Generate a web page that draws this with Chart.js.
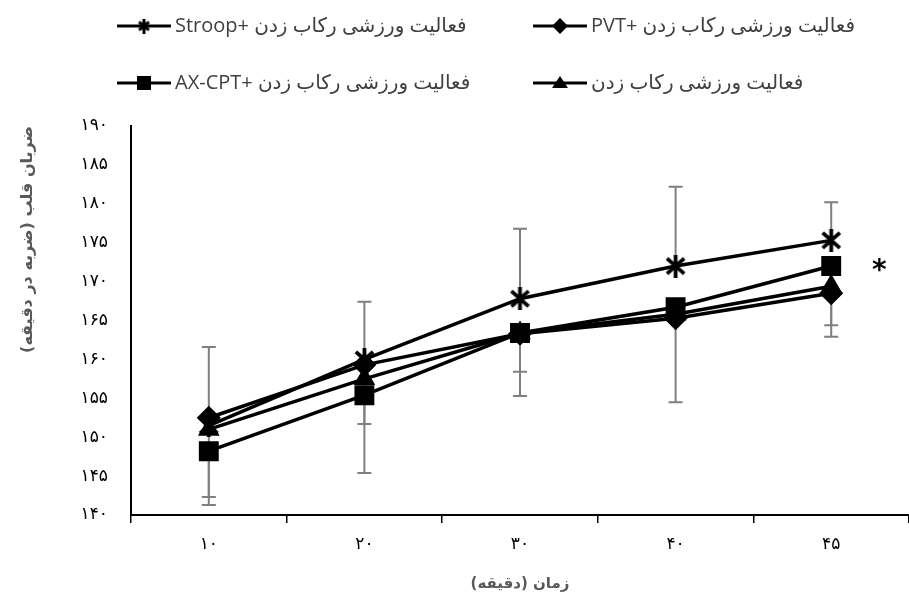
<!DOCTYPE html>
<html lang="fa">
<head>
<meta charset="utf-8">
<script src="https://cdn.jsdelivr.net/npm/chart.js@4.4.1/dist/chart.umd.min.js"></script>
<style>
  html, body { margin: 0; padding: 0; background: #fff; overflow: hidden; }
</style>
</head>
<body>
<canvas id="hrChart" width="909" height="598"></canvas>
<script>
// داده‌ها (خوانده شده از تصویر)
const timeLabels = ['۱۰', '۲۰', '۳۰', '۴۰', '۴۵'];
const yTickLabels = ['۱۴۰', '۱۴۵', '۱۵۰', '۱۵۵', '۱۶۰', '۱۶۵', '۱۷۰', '۱۷۵', '۱۸۰', '۱۸۵', '۱۹۰'];

const stroopName  = 'فعالیت ورزشی رکاب زدن +Stroop';
const pvtName     = 'فعالیت ورزشی رکاب زدن +PVT';
const axcptName   = 'فعالیت ورزشی رکاب زدن +AX-CPT';
const cyclingName = 'فعالیت ورزشی رکاب زدن';

const stroopValues  = [151.5, 160.0, 167.8, 172.0, 175.3];
const pvtValues     = [152.5, 159.3, 163.3, 165.3, 168.5];
const axcptValues   = [148.2, 155.4, 163.4, 166.7, 172.0];
const cyclingValues = [151.0, 157.5, 163.4, 165.8, 169.4];

// انحراف معیار (فقط یک سمت در نمودار دیده می‌شود)
const stroopErrPlus   = [10.1, 7.4, 9.0, 10.2, 4.9];
const axcptErrMinus   = [6.9, 10.0, 8.1, 12.2, 9.1];
const cyclingErrMinus = [8.7, 5.8, 5.0, 0.8, 5.0];

const yAxisTitle = '\u200Fضربان قلب (ضربه در دقیقه)\u200F';
const xAxisTitle = '\u200Fزمان (دقیقه)\u200F';

function makeStar(size, lw) {
  const c = document.createElement('canvas');
  c.width = size; c.height = size;
  const g = c.getContext('2d');
  const m = lw / 2 + 1, s = size;
  g.strokeStyle = '#000';
  g.lineWidth = lw;
  g.beginPath();
  g.moveTo(m, m + 1); g.lineTo(s - m, s - m - 1);
  g.moveTo(s - m, m + 1); g.lineTo(m, s - m - 1);
  g.moveTo(s / 2, 0); g.lineTo(s / 2, s);
  g.stroke();
  return c;
}
const starPoint = makeStar(23, 3.8);
const starLegend = makeStar(15, 3);

function drawLegendMarker(ctx, style, x, y) {
  ctx.fillStyle = '#000';
  ctx.beginPath();
  if (style === 'star') {
    ctx.drawImage(starLegend, x - starLegend.width / 2, y - starLegend.height / 2);
    return;
  } else if (style === 'rect') {
    ctx.rect(x - 7, y - 7, 14, 14);
  } else if (style === 'rectRot') {
    ctx.moveTo(x, y - 8); ctx.lineTo(x + 8, y); ctx.lineTo(x, y + 8); ctx.lineTo(x - 8, y);
  } else {
    ctx.moveTo(x, y - 7); ctx.lineTo(x + 8, y + 5); ctx.lineTo(x - 8, y + 5);
  }
  ctx.closePath();
  ctx.fill();
}

// legend in two rows / two columns, like the Excel original
const legendSpots = [
  { x: 117, y: 26 }, { x: 533, y: 26 },
  { x: 117, y: 83 }, { x: 533, y: 83 }
];

const legendPlugin = {
  id: 'gridLegend',
  afterDraw(chart) {
    const ctx = chart.ctx;
    ctx.save();
    chart.data.datasets.forEach((ds, i) => {
      const p = legendSpots[i];
      ctx.strokeStyle = '#000';
      ctx.lineWidth = 3;
      ctx.beginPath();
      ctx.moveTo(p.x, p.y); ctx.lineTo(p.x + 54, p.y);
      ctx.stroke();
      drawLegendMarker(ctx, ds.legendStyle, p.x + 27, p.y);
      ctx.fillStyle = '#404040';
      ctx.font = '20px "Open Sans", "DejaVu Sans", sans-serif';
      ctx.direction = 'rtl';
      ctx.textAlign = 'left';
      ctx.textBaseline = 'middle';
      ctx.fillText(ds.label, p.x + 58, p.y);
    });
    ctx.restore();
  }
};

const errorBarPlugin = {
  id: 'errorBars',
  beforeDatasetsDraw(chart) {
    const { ctx, scales: { x, y } } = chart;
    ctx.save();
    ctx.strokeStyle = '#7f7f7f';
    ctx.lineWidth = 2;
    chart.data.datasets.forEach(ds => {
      ds.data.forEach((v, j) => {
        const px = x.getPixelForValue(j);
        const py = y.getPixelForValue(v);
        const ends = [];
        if (ds.errPlus) ends.push(y.getPixelForValue(v + ds.errPlus[j]));
        if (ds.errMinus) ends.push(y.getPixelForValue(v - ds.errMinus[j]));
        ends.forEach(e => {
          ctx.beginPath();
          ctx.moveTo(px, py); ctx.lineTo(px, e);
          ctx.moveTo(px - 7, e); ctx.lineTo(px + 7, e);
          ctx.stroke();
        });
      });
    });
    ctx.restore();
  }
};

// ستاره معنی‌داری کنار نقطه آخر
const signifPlugin = {
  id: 'signif',
  afterDatasetsDraw(chart) {
    const { ctx, scales: { x, y } } = chart;
    const last = timeLabels.length - 1;
    ctx.save();
    ctx.fillStyle = '#000';
    ctx.font = 'bold 28px "DejaVu Sans", sans-serif';
    ctx.textAlign = 'center';
    ctx.textBaseline = 'middle';
    ctx.fillText('*', x.getPixelForValue(last) + 48, y.getPixelForValue(axcptValues[last]) + 6);
    ctx.restore();
  }
};

function lineSet(label, data, style, radius) {
  return {
    label: label,
    data: data,
    borderColor: '#000',
    backgroundColor: '#000',
    borderWidth: 3.5,
    pointStyle: style === 'star' ? starPoint : style,
    legendStyle: style,
    pointRadius: radius,
    pointHoverRadius: radius,
    pointBorderWidth: 1.5,
    pointBackgroundColor: '#000',
    pointBorderColor: '#000',
    tension: 0
  };
}

const stroopSet = lineSet(stroopName, stroopValues, 'star', 11);
stroopSet.errPlus = stroopErrPlus;
const pvtSet = lineSet(pvtName, pvtValues, 'rectRot', 11);
const axcptSet = lineSet(axcptName, axcptValues, 'rect', 13);
axcptSet.errMinus = axcptErrMinus;
const cyclingSet = lineSet(cyclingName, cyclingValues, 'triangle', 11);
cyclingSet.errMinus = cyclingErrMinus;

new Chart(document.getElementById('hrChart'), {
  type: 'line',
  data: {
    labels: timeLabels,
    datasets: [stroopSet, pvtSet, axcptSet, cyclingSet]
  },
  options: {
    responsive: false,
    animation: false,
    devicePixelRatio: 1,
    layout: { autoPadding: false, padding: { top: 126, right: 0, bottom: 0, left: 0 } },
    plugins: {
      legend: { display: false },
      tooltip: { enabled: false }
    },
    scales: {
      x: {
        type: 'category',
        offset: true,
        afterFit: s => { s.height = 83; s.paddingLeft = 0; s.paddingRight = 0; },
        grid: { display: true, offset: true, drawOnChartArea: false, drawTicks: true, tickLength: 8, color: '#000', lineWidth: 1.5 },
        border: { display: true, color: '#000', width: 2 },
        ticks: { color: '#000', padding: 11, font: { size: 17, family: '"DejaVu Sans", sans-serif' } },
        title: { display: true, text: xAxisTitle, color: '#595959', padding: { top: 0, bottom: 5 }, font: { size: 15, weight: 'bold', family: '"DejaVu Sans", sans-serif' } }
      },
      y: {
        min: 140,
        max: 190,
        afterFit: s => { s.width = 131; s.paddingTop = 0; s.paddingBottom = 0; },
        grid: { display: false },
        border: { display: true, color: '#000', width: 2 },
        ticks: {
          stepSize: 5,
          color: '#000',
          padding: 15,
          font: { size: 17, family: '"DejaVu Sans", sans-serif' },
          callback: (v, i) => yTickLabels[i]
        },
        title: { display: true, text: yAxisTitle, align: 'end', color: '#595959', padding: { top: 18, bottom: 0 }, font: { size: 16, weight: 'bold', family: '"DejaVu Sans", sans-serif' } }
      }
    }
  },
  plugins: [errorBarPlugin, signifPlugin, legendPlugin]
});
</script>
</body>
</html>
